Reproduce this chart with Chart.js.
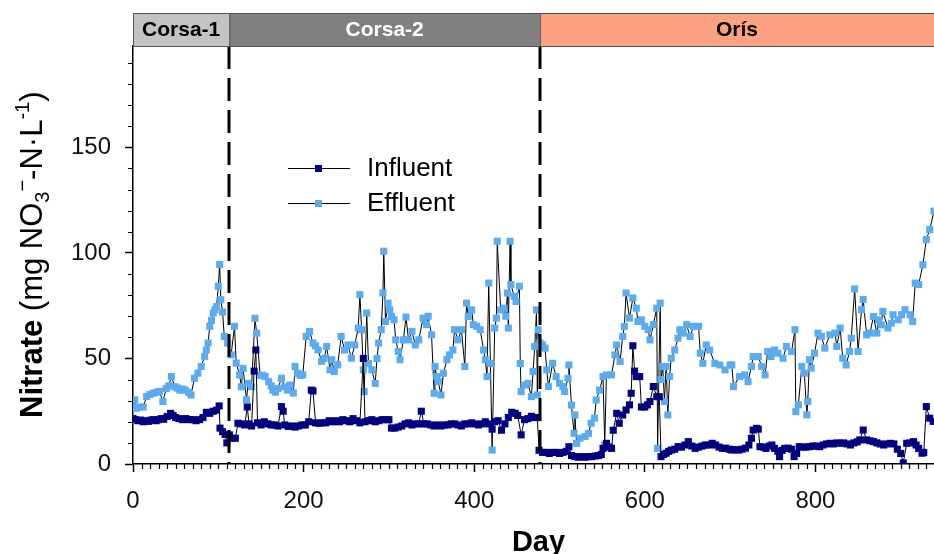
<!DOCTYPE html>
<html>
<head>
<meta charset="utf-8">
<script src="https://cdn.jsdelivr.net/npm/chart.js@4.4.1/dist/chart.umd.min.js"></script>
<style>
html, body { margin: 0; padding: 0; background: #fff; overflow: hidden; }
</style>
</head>
<body>
<canvas id="myChart" width="934" height="554"></canvas>
<script>
// phases of the run
var phaseNames = ["Corsa-1", "Corsa-2", "Orís"];
var phaseStart = [0, 113, 477];
var phaseEnd = [113, 477, 939];
var phaseColors = ["#c3c3c3", "#808080", "#fda183"];
var phaseTextColors = ["#000", "#fff", "#000"];

var xTicks = [0, 200, 400, 600, 800];
var yTicks = [0, 50, 100, 150];

// [day, mg NO3-N/L]
var influent = [
  [0,21.5],[3,21],[6,20.5],[9,20.8],[12,20],[15,20.5],[18,20.2],[21,20.8],[24,21],[27,20.5],
  [30,21],[33,21.5],[36,21.2],[40,22.5],[44,24],[47,23],[50,22],[54,21.5],[58,21],[62,21.5],
  [66,21],[70,21],[74,20.5],[78,21],[82,22],[86,24.5],[90,24],[94,25],[98,25.5],[101,27.5],
  [102,17],[105,15.3],[108,14],[110,10],[113,13.8],[116,12.2],[120,12.2],[123,19.3],[127,19],[131,18.5],
  [134,27],[136,19],[139,18],[142,44],[144,54],[146,19.5],[150,18.5],[154,20],[158,19],[162,18.5],
  [166,18.5],[170,18],[174,27.2],[176,25],[178,18.5],[182,17.8],[186,18],[190,17.5],[194,18],[198,18.5],
  [202,18.5],[206,20],[209,35],[211,34.6],[214,19.5],[218,19.3],[222,19.5],[226,19.5],[230,20.5],[234,20],
  [238,20.5],[242,20],[246,21],[250,20.5],[254,20],[258,21.5],[262,20.5],[266,19.5],[270,50],[272,20],
  [276,20.5],[280,21],[284,20],[288,20.5],[292,21],[296,21],[300,21],[303,17],[307,17],[311,17.5],
  [315,18],[319,19],[323,19.5],[327,18.5],[331,19],[335,19],[338,25],[341,19],[345,19],[349,18.5],
  [353,18],[357,18.5],[361,18],[365,18.5],[369,18.5],[373,19],[377,19],[381,18.5],[385,18],[389,19],
  [393,19],[397,19.5],[401,19],[405,18.5],[409,19],[413,20],[417,19],[421,16.5],[424,20],[428,20.5],
  [432,16],[436,19],[440,22],[444,24.5],[448,24],[451,23],[455,13.8],[459,21],[463,21.5],[467,22.6],
  [471,22],[474,22],[476,6.5],[480,5.5],[484,5.5],[488,5],[492,5.5],[496,5.5],[500,5],[504,5.5],
  [508,6],[511,8.2],[514,4],[518,3.5],[522,3.2],[526,3.5],[530,3.2],[534,3.5],[538,3.5],[542,3.8],
  [546,4],[549,4.5],[551,7.4],[555,9.8],[558,8],[561,7.4],[563,16],[567,24],[570,19.3],[574,23.2],
  [578,25.6],[582,28],[584,33.5],[586,56],[588,44],[590,41.4],[594,41.4],[596,27],[600,27],[603,28],
  [606,29.6],[610,36.7],[614,31.9],[617,31.9],[619,3.5],[622,4.5],[625,5.1],[628,6],[631,6.6],[635,7],
  [639,8.2],[643,8],[647,9],[651,10.6],[655,8.5],[659,7.4],[663,8],[667,8.5],[671,9],[675,9],
  [679,9.8],[683,9],[687,8],[691,7.4],[695,7.5],[699,7],[702,6.6],[706,6.8],[710,6.6],[714,7],
  [718,7.5],[722,9],[725,12.2],[727,16.1],[731,16.9],[733,16.5],[735,8.2],[739,8],[742,7.4],[746,8.5],
  [749,9],[752,7.4],[756,6],[758,3.5],[761,6.5],[764,7.4],[768,7.5],[772,7],[775,3.5],[778,5],
  [781,8.2],[785,8],[789,8],[793,8.2],[797,8.5],[801,8.5],[805,8.2],[809,9],[813,9.5],[817,9.8],
  [821,9.5],[825,10],[829,9.8],[833,10],[837,9.5],[841,9],[845,10],[849,10.5],[852,11.4],[856,16.1],
  [860,11.4],[864,11],[868,10.6],[872,10],[876,9.5],[880,9],[884,9.5],[888,9.8],[892,9.5],[896,7],
  [900,5],[903,0.5],[907,9.8],[911,10],[915,10.6],[918,9],[921,7.4],[925,5.1],[927,5.5],[930,27.2],
  [934,21.7],[938,20.2]
];

var effluent = [
  [0,27],[2,30.4],[4,26.4],[8,27],[12,27],[16,32],[20,33],[24,33.6],[28,34],[31,34.4],
  [35,29.6],[39,35.8],[42,37],[45,41.4],[49,36.6],[52,36],[55,35],[58,35.5],[61,35],[65,34],
  [68,32.7],[72,40.6],[76,43],[80,46.2],[84,51],[86,54],[88,57.3],[90,65.2],[92,68],[94,71.5],
  [96,73],[98,74.6],[100,84.2],[101.6,94.5],[103,77.8],[105,72],[107,60.4],[111,57.3],[115,51.7],[119,65.2],
  [121,47.8],[125,42.2],[127,36.6],[129,45.3],[133,30.4],[135,38.2],[139,36.6],[143,69],[145,62],[149,42],
  [152,42],[155,41.4],[159,39],[162,37],[164,35],[167,34],[170,35.8],[174,40.6],[178,36.6],[181,35],
  [184,37.4],[188,33.6],[190,46.2],[193,43],[196,42],[199,42.2],[203,60.4],[207,62.8],[211,57.3],[214,56],
  [217,54],[221,48.6],[224,50],[227,55.7],[231,44.6],[233,49.4],[236,43.8],[240,47],[244,60.4],[248,54],
  [252,56.4],[256,50.1],[260,56.4],[264,64.4],[266,80.2],[268,63.6],[270,44.6],[271,34.3],[274,71.5],[276,47.6],
  [280,44.6],[284,38.2],[286,50],[288,57.3],[291,63.6],[293,81],[294,100.8],[296,67.5],[299,76.2],[301,73],
  [303,69.9],[306,68.3],[308,58.8],[311,53.3],[313,49.4],[317,58.8],[320,69.6],[323,58.8],[327,62.8],[331,56.4],
  [335,58.8],[340,69.1],[344,66],[346,70],[350,61.2],[353,33.5],[354,46.2],[356,41.4],[358,39],[361,32.7],
  [364,43],[368,49.4],[371,51.7],[375,54],[377,63.6],[381,58.8],[385,63.6],[389,46.2],[391,76.2],[393,69.9],
  [397,73],[399,66],[403,65.2],[407,63.6],[411,54],[413,49.4],[415,41.4],[417,85.7],[419,47.6],[421,6.6],
  [424,64.4],[426,69.1],[427,105.5],[431,73],[435,73.8],[437,70],[439,81],[440,64.4],[442,105.5],[443,85],
  [447,79.4],[449,77],[453,84.2],[454,47.6],[455,34.3],[459,37.4],[463,38.2],[467,31.9],[469,43.8],[471,55.7],
  [473,73],[474,32.7],[475,63.6],[477,57.3],[480,56.4],[483,54.9],[485,44.6],[487,36.7],[492,47.7],[496,41.4],
  [500,38.2],[504,36.7],[506,34.3],[510,40.6],[511,46.9],[514,27.9],[517,14.5],[518,23.2],[520,9.8],[524,12.2],
  [530,13],[534,14.5],[537,19.3],[541,21.7],[543,30.3],[547,35],[551,41.4],[553,9],[555,42.2],[561,42.2],
  [565,51.7],[567,56.4],[571,48.6],[574,60.4],[576,65.2],[578,81],[582,69.1],[586,78.6],[590,73.8],[592,67.5],
  [596,68.3],[600,65.2],[604,63.6],[606,58.8],[610,66],[614,73.8],[615,7.4],[618,76.2],[619,40],[621,46.2],
  [623,29.6],[625,46.2],[627,23.2],[629,41.4],[631,50.1],[635,54],[639,59.6],[641,63.6],[645,62],[649,66],
  [653,60.4],[657,65.2],[663,65.2],[665,52.5],[668,47.7],[672,56.4],[676,54],[682,47.7],[688,46.9],[694,44.6],
  [700,46.9],[702,46.9],[704,36.7],[711,41.4],[717,42.2],[721,39],[725,46.2],[727,50.9],[733,50.9],[737,46.2],
  [741,42.2],[744,53.3],[748,50.9],[752,54],[756,52.5],[762,50.1],[766,55.7],[772,53.3],[776,63.6],[777,24.8],
  [780,28],[784,46.2],[787,43],[790,23.3],[791,29.6],[793,49.4],[795,45.4],[799,52.5],[803,62],[807,60.4],
  [811,54.9],[817,61.2],[823,62],[825,55.7],[829,64.4],[832,50.1],[836,46.9],[840,53.3],[842,59.6],[846,82.9],
  [850,53.3],[854,73.1],[856,77.9],[860,61.2],[864,62],[868,69.9],[872,62],[874,68.3],[877,65.9],[879,72.3],
  [885,64.4],[889,66.7],[891,70.7],[897,68.3],[901,70.7],[905,73.1],[911,70.7],[914,67.5],[917,85.7],[921,85],
  [926,94.4],[930,106.3],[934,111],[939,119.8]
];

var FONT = "'Liberation Sans', Arial, sans-serif";

function toPoints(arr) {
  return arr.map(function (p) { return { x: p[0], y: p[1] }; });
}

function series(label, arr, color) {
  return {
    label: label,
    data: toPoints(arr),
    borderColor: "#000",
    borderWidth: 1,
    pointStyle: "rect",
    pointRadius: 5,
    pointBorderWidth: 0,
    pointBackgroundColor: color,
    pointBorderColor: color,
    tension: 0
  };
}

// minor ticks, phase bar, dashed phase lines, legend, axis titles
var extras = {
  id: "extras",
  afterDatasetsDraw: function (chart) {
    var ctx = chart.ctx, a = chart.chartArea, x = chart.scales.x;
    ctx.save();
    ctx.strokeStyle = "#000";
    ctx.lineWidth = 3;
    ctx.setLineDash([23, 9]);
    for (var i = 1; i < phaseStart.length; i++) {
      var px = Math.round(x.getPixelForValue(phaseStart[i]));
      ctx.beginPath();
      ctx.moveTo(px, a.top);
      ctx.lineTo(px, a.bottom);
      ctx.stroke();
    }
    ctx.restore();
  },
  afterDraw: function (chart) {
    var ctx = chart.ctx, a = chart.chartArea, x = chart.scales.x, y = chart.scales.y;
    ctx.save();

    // minor ticks
    ctx.strokeStyle = "#000";
    ctx.lineWidth = 1.2;
    ctx.beginPath();
    for (var d = 10; d <= x.max; d += 10) {
      if (d % 200 === 0) continue;
      var px = Math.round(x.getPixelForValue(d)) + 0.5;
      ctx.moveTo(px, a.bottom);
      ctx.lineTo(px, a.bottom + 5);
    }
    for (var v = 10; v <= y.max; v += 10) {
      if (v % 50 === 0) continue;
      var py = Math.round(y.getPixelForValue(v)) + 0.5;
      ctx.moveTo(a.left, py);
      ctx.lineTo(a.left - 5, py);
    }
    ctx.stroke();

    // phase bar
    var barTop = 13, barBottom = a.top;
    for (var i = 0; i < phaseNames.length; i++) {
      var x0 = x.getPixelForValue(phaseStart[i]);
      var x1 = Math.min(x.getPixelForValue(phaseEnd[i]), chart.width + 2);
      ctx.fillStyle = phaseColors[i];
      ctx.fillRect(x0, barTop, x1 - x0, barBottom - barTop);
      ctx.strokeStyle = "#555";
      ctx.lineWidth = 1;
      ctx.strokeRect(x0 + 0.5, barTop + 0.5, x1 - x0, barBottom - barTop);
      ctx.fillStyle = phaseTextColors[i];
      ctx.font = "bold 21px " + FONT;
      ctx.textAlign = "center";
      ctx.textBaseline = "middle";
      ctx.fillText(phaseNames[i], (x0 + x1) / 2, (barTop + barBottom) / 2 + 1);
    }

    // legend
    var ds = chart.data.datasets;
    for (var k = 0; k < ds.length; k++) {
      var ly = 168 + k * 35;
      ctx.strokeStyle = "#000";
      ctx.lineWidth = 1;
      ctx.beginPath();
      ctx.moveTo(288, ly + 0.5);
      ctx.lineTo(350, ly + 0.5);
      ctx.stroke();
      ctx.fillStyle = ds[k].pointBackgroundColor;
      ctx.fillRect(315, ly - 3, 7, 7);
      ctx.fillStyle = "#000";
      ctx.font = "26px " + FONT;
      ctx.textAlign = "left";
      ctx.textBaseline = "middle";
      ctx.fillText(ds[k].label, 367, ly + 1);
    }

    // x title
    ctx.font = "bold 29px " + FONT;
    ctx.textAlign = "center";
    ctx.textBaseline = "alphabetic";
    ctx.fillText("Day", (a.left + a.right) / 2 + 5, 551);

    // y title with sub/superscripts
    var parts = [
      ["Nitrate", "bold 31px", 0],
      [" (mg NO", "31px", 0],
      ["3", "20px", 7],
      ["−", "20px", -13],
      ["-N·L", "31px", 0],
      ["-1", "20px", -13],
      [")", "31px", 0]
    ];
    ctx.translate(42, 418);
    ctx.rotate(-Math.PI / 2);
    ctx.textAlign = "left";
    var cx = 0;
    for (var j = 0; j < parts.length; j++) {
      ctx.font = parts[j][1] + " " + FONT;
      ctx.fillText(parts[j][0], cx, parts[j][2]);
      cx += ctx.measureText(parts[j][0]).width;
    }
    ctx.restore();
  }
};

new Chart("myChart", {
  type: "line",
  data: {
    datasets: [
      series("Influent", influent, "#000080"),
      series("Effluent", effluent, "#5aabf0")
    ]
  },
  options: {
    responsive: false,
    animation: false,
    layout: { autoPadding: false, padding: { top: 46, right: 0, left: 0, bottom: 0 } },
    plugins: {
      legend: { display: false },
      tooltip: { enabled: false }
    },
    scales: {
      x: {
        type: "linear",
        min: 0,
        max: 939,
        afterBuildTicks: function (s) { s.ticks = xTicks.map(function (v) { return { value: v }; }); },
        afterFit: function (s) { s.height = 90; s.paddingLeft = 0; s.paddingRight = 0; },
        ticks: { font: { family: FONT, size: 24 }, color: "#111", padding: 15, maxRotation: 0, autoSkip: false },
        grid: { drawOnChartArea: false, tickLength: 8, tickColor: "#000", tickWidth: 1.5 },
        border: { color: "#000", width: 1.5 }
      },
      y: {
        min: 0,
        max: 198,
        afterBuildTicks: function (s) { s.ticks = yTicks.map(function (v) { return { value: v }; }); },
        afterFit: function (s) { s.width = 133; s.paddingTop = 0; s.paddingBottom = 0; },
        ticks: { font: { family: FONT, size: 24 }, color: "#111", padding: 14 },
        grid: { drawOnChartArea: false, tickLength: 8, tickColor: "#000", tickWidth: 1.5 },
        border: { color: "#000", width: 1.5 }
      }
    }
  },
  plugins: [extras]
});
</script>
</body>
</html>
